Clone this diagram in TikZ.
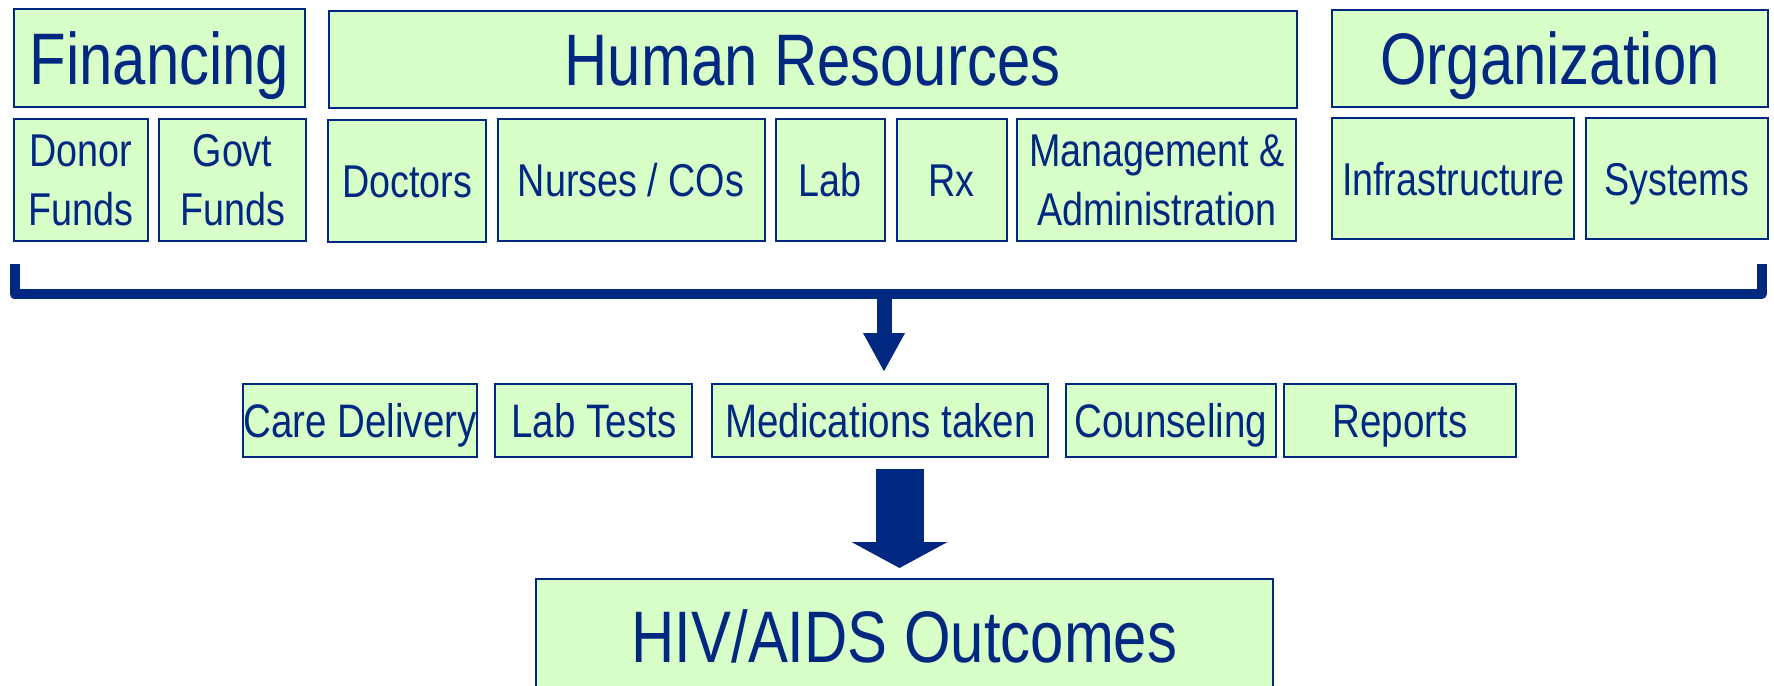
\documentclass[tikz,border=0pt]{standalone}
\usepackage{fontspec}
\setmainfont{Liberation Sans}[FakeStretch=0.82]
\usetikzlibrary{arrows.meta}
\definecolor{navy}{RGB}{0,40,128}
\definecolor{mint}{RGB}{216,255,200}
\begin{document}
\begin{tikzpicture}[x=1pt,y=-1pt,
  box/.style={draw=navy, line width=2pt, fill=mint, text=navy, inner sep=0pt, rectangle},
  bigtxt/.style={font=\fontsize{73}{80}\selectfont, text height=52pt, text depth=0pt},
  midtxt/.style={font=\fontsize{46}{59}\selectfont, text height=33pt, text depth=0pt},
  twoline/.style={font=\fontsize{46}{59}\selectfont, align=center},
  rowtxt/.style={font=\fontsize{47}{55}\selectfont, text height=34pt, text depth=0pt},
  sz/.style 2 args={minimum width=#1pt, minimum height=#2pt},
  flow/.style={draw=navy, line width=10pt, line join=round}
]
\path[use as bounding box, clip] (0,0) rectangle (1774,685);

% top row
\node[box,bigtxt,sz={291}{98}] (fin) at (159.4,58.3) {Financing};
\node[box,bigtxt,sz={968}{97}] (hr) at (812.5,59.5) {Human Resources};
\node[box,bigtxt,sz={436}{96}] (org) at (1549.9,58.5) {Organization};

% second row
\node[box,twoline,sz={134}{122}] (donor) at (80.75,180.2) {Donor\\Funds};
\node[box,twoline,sz={147}{122}] (govt) at (232.5,180.2) {Govt\\Funds};
\node[box,midtxt,sz={158}{122}] (doc) at (407.4,180.5) {Doctors};
\node[box,midtxt,sz={267}{122}] (nurse) at (631,180.2) {Nurses / COs};
\node[box,midtxt,sz={109}{122}] (lab) at (830.4,180.2) {Lab};
\node[box,midtxt,sz={110}{122}] (rx) at (951.5,180.2) {Rx};
\node[box,twoline,sz={279}{122}] (mgmt) at (1156.9,180.2) {Management \&\\Administration};
\node[box,midtxt,sz={242}{121}] (infra) at (1453.1,178.8) {Infrastructure};
\node[box,midtxt,sz={182}{121}] (sys) at (1676.7,178.8) {Systems};

% bracket
\coordinate (bl) at (14.5,264);
\coordinate (br) at (1761.5,264);
\coordinate (bj) at (884,294);
\coordinate (t1) at (884,372);
\draw[flow] (bl) -- (bl |- bj) -- (br |- bj) -- (br);
\draw[navy, line width=15pt, -{Triangle[width=39pt,length=39pt]}] (bj) -- (t1);

% third row
\node[box,rowtxt,sz={233}{73}] (care) at (360,420.8) {Care Delivery};
\node[box,rowtxt,sz={197}{73}] (labt) at (593.9,420.8) {Lab Tests};
\node[box,rowtxt,sz={336}{73}] (meds) at (880.4,420.8) {Medications taken};
\node[box,rowtxt,sz={210}{73}] (couns) at (1170.8,420.8) {Counseling};
\node[box,rowtxt,sz={232}{73}] (rep) at (1400,420.8) {Reports};

% big arrow
\coordinate (b0) at (899.5,469);
\coordinate (b1) at (899.5,568);
\draw[navy, line width=48pt, -{Triangle[width=95pt,length=26pt]}] (b0) -- (b1);

% outcome
\node[box,bigtxt,sz={737}{114.6}] (hiv) at (904.4,636) {HIV/AIDS Outcomes};
\end{tikzpicture}
\end{document}
